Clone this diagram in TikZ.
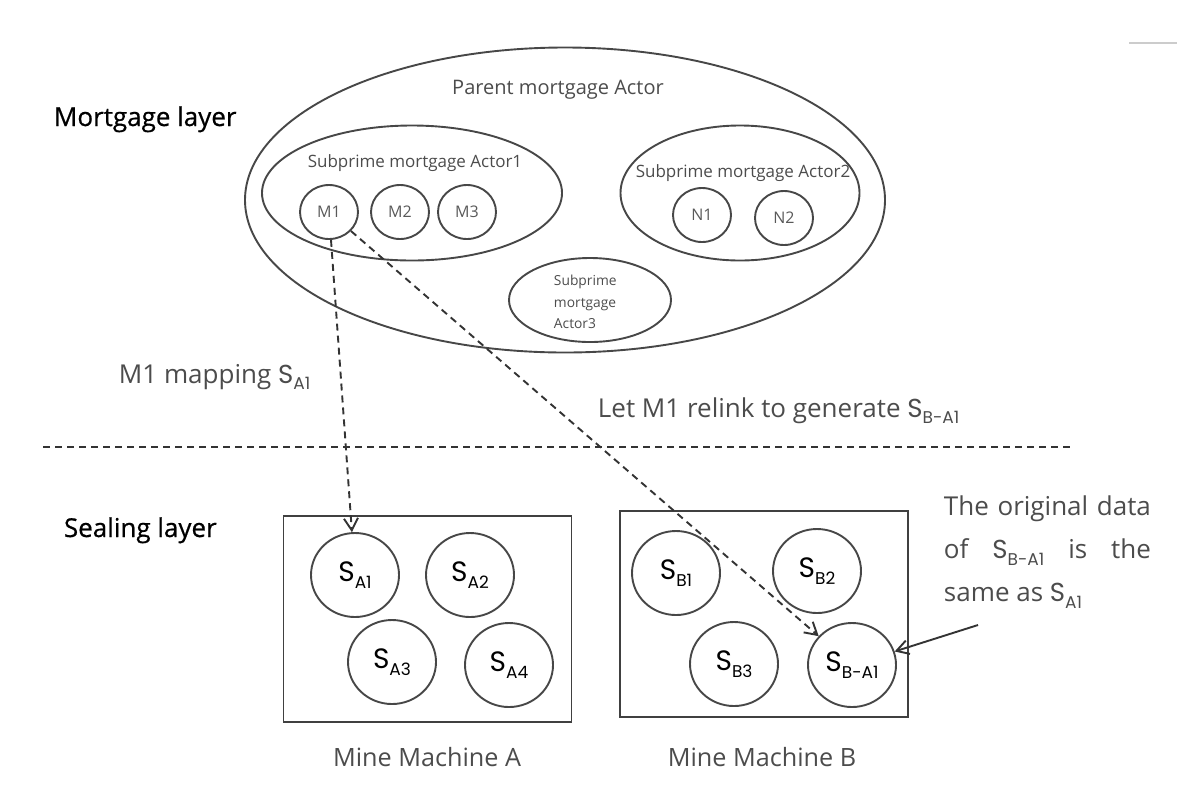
\documentclass[tikz,border=0pt]{standalone}
\usepackage{fontspec}
\setmainfont{Open Sans}
\newfontfamily\geofont{Poppins}
\newfontfamily\layerfont[FakeBold=0.6]{Open Sans}
\usetikzlibrary{shapes.geometric,arrows.meta}
\newcommand{\ssub}[1]{{\geofont S\raisebox{-0.45ex}{\fontsize{8.5}{9}\selectfont #1}}}

\begin{document}
\begin{tikzpicture}[x=0.5pt,y=-0.5pt,line width=0.95pt,
  oval/.style={draw=black!72,ellipse,inner sep=0pt},
  ball/.style={oval,minimum width=29pt,minimum height=27pt,text=black!65,font=\fontsize{8}{9}\selectfont},
  seal/.style={oval,minimum width=44pt,minimum height=42pt,font=\fontsize{14}{16}\selectfont},
  machine/.style={draw=black!75,inner sep=0pt,minimum width=144pt,minimum height=103pt},
  tag/.style={text=black!70,inner sep=0pt},
  layer/.style={inner sep=0pt,anchor=base west,font=\layerfont\fontsize{13}{15}\selectfont},
  link/.style={black!80,dash pattern=on 3.5pt off 2.5pt,-{Straight Barb[length=6pt,width=7pt]}}]
  \useasboundingbox (0,0) rectangle (1192,804);
  \draw[black!20,line width=1pt] (1129,43) -- (1177,43);

  \node[oval,minimum width=320pt,minimum height=152.5pt] (parent) at (565,200) {};
  \node[oval,minimum width=150pt,minimum height=67.5pt] (sub1) at (412,193) {};
  \node[oval,minimum width=119.5pt,minimum height=67.5pt] (sub2) at (740,193) {};
  \node[oval,minimum width=81pt,minimum height=42pt] (sub3) at (590,300) {};
  \node[tag,font=\fontsize{10}{12}\selectfont] (parentlbl) at (558,90) {Parent mortgage Actor};
  \node[tag,font=\fontsize{8.5}{10}\selectfont] (sub1lbl) at (415,163) {Subprime mortgage Actor1};
  \node[tag,font=\fontsize{8.5}{10}\selectfont] (sub2lbl) at (743,173) {Subprime mortgage Actor2};
  \node[tag,anchor=west,align=left,font=\fontsize{6.9}{10.75}\selectfont] (sub3lbl) at (553,302) {Subprime\\mortgage\\Actor3};

  \node[ball] (M1) at (329,212) {M1};
  \node[ball] (M2) at (400,212) {M2};
  \node[ball] (M3) at (467,212) {M3};
  \node[ball] (N1) at (702,215) {N1};
  \node[ball] (N2) at (784,218) {N2};

  \node[layer] (mlayer) at (53,126) {Mortgage layer};
  \node[layer] (slayer) at (63,537) {Sealing layer};
  \node[tag,anchor=base west,font=\fontsize{13}{15}\selectfont] (maplbl) at (118,383) {M1 mapping \ssub{A1}};
  \node[tag,anchor=base west,font=\fontsize{13}{15}\selectfont] (relinklbl) at (597,417) {Let M1 relink to generate \ssub{B-A1}};
  \draw[black!80,dash pattern=on 3.5pt off 2.5pt] (43,447) -- (1072,447);

  \node[machine] (boxA) at (427.5,619) {};
  \node[machine] (boxB) at (764,614) {};
  \node[tag,font=\fontsize{12.6}{15}\selectfont] (boxAlbl) at (427,757) {Mine Machine A};
  \node[tag,font=\fontsize{12.6}{15}\selectfont] (boxBlbl) at (762,757) {Mine Machine B};

  \node[seal] (SA1) at (355,575) {\ssub{A1}};
  \node[seal] (SA2) at (470,575) {\ssub{A2}};
  \node[seal] (SA3) at (392,662) {\ssub{A3}};
  \node[seal] (SA4) at (509,665) {\ssub{A4}};
  \node[seal] (SB1) at (676,573) {\ssub{B1}};
  \node[seal] (SB2) at (817,571) {\ssub{B2}};
  \node[seal] (SB3) at (734,664) {\ssub{B3}};
  \node[seal] (SBA1) at (852,665) {\ssub{B-A1}};

  \node[tag,anchor=north west,text width=103.5pt,align=justify,font=\fontsize{13}{21.5}\selectfont] (note) at (943,495)
    {The\hfill original\hfill data\\ of\hfill \ssub{B-A1}\hfill is\hfill the\\ same as \ssub{A1}};
  \coordinate (notetip) at (978,625);

  \draw[link] (M1) -- (SA1);
  \draw[link] (M1) -- (SBA1);
  \draw[black!80,-{Straight Barb[length=6pt,width=7pt]}] (notetip) -- (SBA1);
\end{tikzpicture}
\end{document}
